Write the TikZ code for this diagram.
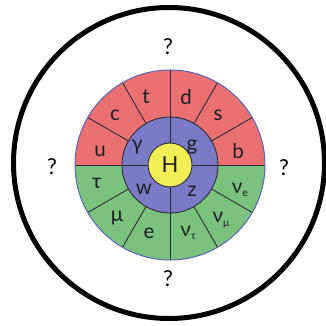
\documentclass[tikz,border=0pt]{standalone}
\usepackage{fontspec}
\setmainfont{Lato}
\usetikzlibrary{calc}
\definecolor{segred}{RGB}{234,112,114}
\definecolor{segblue}{RGB}{122,122,198}
\definecolor{seggreen}{RGB}{122,194,126}
\definecolor{segyellow}{RGB}{242,238,88}
\definecolor{rimblue}{RGB}{90,100,180}
\definecolor{divider}{RGB}{45,45,55}
\definecolor{ink}{RGB}{30,30,35}
\tikzset{
  lbl/.style={inner sep=0pt, text=ink, font=\fontsize{20.5}{20.5}\selectfont},
  hlbl/.style={inner sep=0pt, text=ink, font=\fontsize{22}{22}\selectfont},
  qlbl/.style={inner sep=0pt, text=black, font=\fontsize{22}{22}\selectfont},
  divline/.style={draw=divider, line width=0.9pt},
}
\newcommand{\nusub}[1]{ν\raisebox{-0.35ex}{\fontsize{10.5}{10.5}\selectfont #1}}
\begin{document}
\begin{tikzpicture}[x=1pt,y=-1pt]
\useasboundingbox (0,0) rectangle (326,326);
\fill[white] (0,0) rectangle (326,326);
% outer ring
\coordinate (C) at (169,163);
\draw[line width=5pt] (C) circle[radius=155.5pt];
% wheel
\coordinate (O) at (170,165);
\fill[segred] ($(O)+(0:95pt)$) arc[start angle=0,end angle=180,radius=95pt] -- cycle;
\fill[seggreen] ($(O)+(180:95pt)$) arc[start angle=180,end angle=360,radius=95pt] -- cycle;
\fill[segblue] (O) circle[radius=48pt];
\foreach \a in {30,60,120,150,210,240,300,330}
  \draw[divline] ($(O)+(\a:48pt)$) -- ($(O)+(\a:95pt)$);
\foreach \a in {0,90,180,270}
  \draw[divline] ($(O)+(\a:22pt)$) -- ($(O)+(\a:95pt)$);
\draw[divline] (O) circle[radius=48pt];
\draw[rimblue, line width=1pt] (O) circle[radius=95pt];
\fill[segyellow, draw=divider, line width=0.9pt] (O) circle[radius=22pt];
\node[hlbl] (H) at (170,165) {H};
% gauge bosons
\node[lbl] (gamma) at (137,147) {γ};
\node[lbl] (g) at (192,147) {g};
\node[lbl] (w) at (144,189) {w};
\node[lbl] (z) at (192,191) {z};
% quarks
\node[lbl] (u) at (100,151) {u};
\node[lbl] (c) at (115,115) {c};
\node[lbl] (t) at (146,97) {t};
\node[lbl] (d) at (186,97) {d};
\node[lbl] (s) at (218,115) {s};
\node[lbl] (b) at (238,151) {b};
% leptons
\node[lbl] (tau) at (97,183) {τ};
\node[lbl] (mu) at (117,218) {μ};
\node[lbl] (e) at (149,233) {e};
\node[lbl] (nutau) at (188,233) {\nusub{τ}};
\node[lbl] (numu) at (221,220) {\nusub{μ}};
\node[lbl] (nue) at (240,190) {\nusub{e}};
% question marks
\node[qlbl] (qtop) at (168,47) {?};
\node[qlbl] (qleft) at (52,167) {?};
\node[qlbl] (qright) at (284,168) {?};
\node[qlbl] (qbottom) at (168,279) {?};
\end{tikzpicture}
\end{document}
